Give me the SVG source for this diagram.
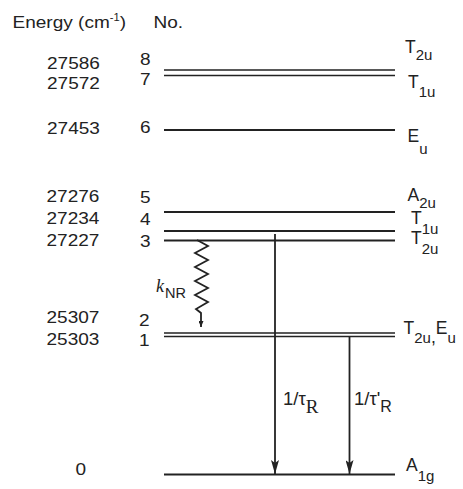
<svg xmlns="http://www.w3.org/2000/svg" width="463" height="489" viewBox="0 0 463 489">
<style>
text{font-family:"Liberation Sans",Arial,sans-serif;fill:#222}
.v{font-size:17px}
.h{font-size:17px}
.lab{font-size:17.5px}
.sub{font-size:15px}
.lvl{stroke:#222;stroke-width:2;fill:none}
.lvl2{stroke:#222;stroke-width:1.7;fill:none}
.arr{stroke:#222;stroke-width:1.8;fill:none}
.serif{font-family:"Liberation Serif","Times New Roman",serif}
</style>
<defs>
<marker id="ah" markerUnits="userSpaceOnUse" markerWidth="14" markerHeight="8" viewBox="0 0 14 8" refX="14" refY="4" orient="auto">
<path d="M0,0 L14,4 L0,8 L3,4 z" fill="#222"/>
</marker>
<marker id="ahs" markerUnits="userSpaceOnUse" markerWidth="6" markerHeight="5" viewBox="0 0 6 5" refX="6" refY="2.5" orient="auto">
<path d="M0,0 L6,2.5 L0,5 z" fill="#222"/>
</marker>
</defs>

<g id="header">
<text class="h" transform="translate(12.5 28.3) scale(1.12 1)">Energy (cm<tspan font-size="10" dy="-7">-1</tspan><tspan dy="7">)</tspan></text>
<text class="h" transform="translate(153.5 28.3) scale(1.12 1)">No.</text>
</g>

<g id="level8">
<line class="lvl2" x1="164" y1="70" x2="395" y2="70"/>
<text class="v" transform="translate(47 69) scale(1.12 1)">27586</text>
<text class="v" transform="translate(140 65) scale(1.12 1)">8</text>
<text class="lab" x="405" y="53">T<tspan class="sub" dy="7">2u</tspan></text>
</g>
<g id="level7">
<line class="lvl2" x1="164" y1="75.5" x2="395" y2="75.5"/>
<text class="v" transform="translate(47 89) scale(1.12 1)">27572</text>
<text class="v" transform="translate(140 85) scale(1.12 1)">7</text>
<text class="lab" x="408" y="88.3">T<tspan class="sub" dy="8.4">1u</tspan></text>
</g>
<g id="level6">
<line class="lvl" x1="164" y1="130" x2="395" y2="130"/>
<text class="v" transform="translate(47 134) scale(1.12 1)">27453</text>
<text class="v" transform="translate(140 133) scale(1.12 1)">6</text>
<text class="lab" x="407.5" y="142.3">E<tspan class="sub" dy="12">u</tspan></text>
</g>
<g id="level5">
<line class="lvl" x1="164" y1="212" x2="395" y2="212"/>
<text class="v" transform="translate(46.5 202) scale(1.12 1)">27276</text>
<text class="v" transform="translate(140 203) scale(1.12 1)">5</text>
<text class="lab" x="407.5" y="200.7">A<tspan class="sub" dy="7.3">2u</tspan></text>
</g>
<g id="level4">
<line class="lvl" x1="164" y1="231" x2="395" y2="231"/>
<text class="v" transform="translate(46.5 224) scale(1.12 1)">27234</text>
<text class="v" transform="translate(140 225) scale(1.12 1)">4</text>
<text class="lab" x="411" y="224">T<tspan class="sub" dy="10">1u</tspan></text>
</g>
<g id="level3">
<line class="lvl" x1="164" y1="240.5" x2="395" y2="240.5"/>
<text class="v" transform="translate(46.5 246) scale(1.12 1)">27227</text>
<text class="v" transform="translate(140 247) scale(1.12 1)">3</text>
<text class="lab" x="411" y="244">T<tspan class="sub" dy="10">2u</tspan></text>
</g>
<g id="level2">
<line class="lvl2" x1="164" y1="333" x2="395" y2="333"/>
<text class="v" transform="translate(46.5 323) scale(1.12 1)">25307</text>
<text class="v" transform="translate(139 326) scale(1.12 1)">2</text>
</g>
<g id="level1">
<line class="lvl2" x1="164" y1="336.5" x2="395" y2="336.5"/>
<text class="v" transform="translate(46.5 345) scale(1.12 1)">25303</text>
<text class="v" transform="translate(139 346) scale(1.12 1)">1</text>
<text class="lab" x="403.5" y="334">T<tspan class="sub" dy="9.3">2u</tspan><tspan>,</tspan><tspan dy="-9.3">E</tspan><tspan class="sub" dy="9.3">u</tspan></text>
</g>
<g id="level0">
<line class="lvl" x1="164" y1="474.5" x2="395" y2="474.5"/>
<text class="v" transform="translate(75.5 475) scale(1.12 1)">0</text>
<text class="lab" x="406" y="471">A<tspan class="sub" dy="10">1g</tspan></text>
</g>

<g id="connectors">
<line class="arr" x1="275" y1="234" x2="275" y2="474" marker-end="url(#ah)"/>
<line class="arr" x1="349.5" y1="336.5" x2="349.5" y2="474" marker-end="url(#ah)"/>
<polyline class="arr" stroke-width="1.4" points="197,240 208,246 195,253 208,260 195,267 208,274 195,281 208,288 195,295 208,302 196,309 201,313 201,327" marker-end="url(#ahs)"/>
</g>

<g id="labels">
<text x="283" y="405" font-size="18.5">1/τ<tspan class="serif" font-size="19" dy="8">R</tspan></text>
<text x="354" y="405" font-size="18.5">1/τ'<tspan font-size="16" dy="6.7">R</tspan></text>
<text class="serif" x="156" y="292" font-size="18" font-style="italic">k</text>
<text x="165" y="298" font-size="14.5">NR</text>
</g>
</svg>
